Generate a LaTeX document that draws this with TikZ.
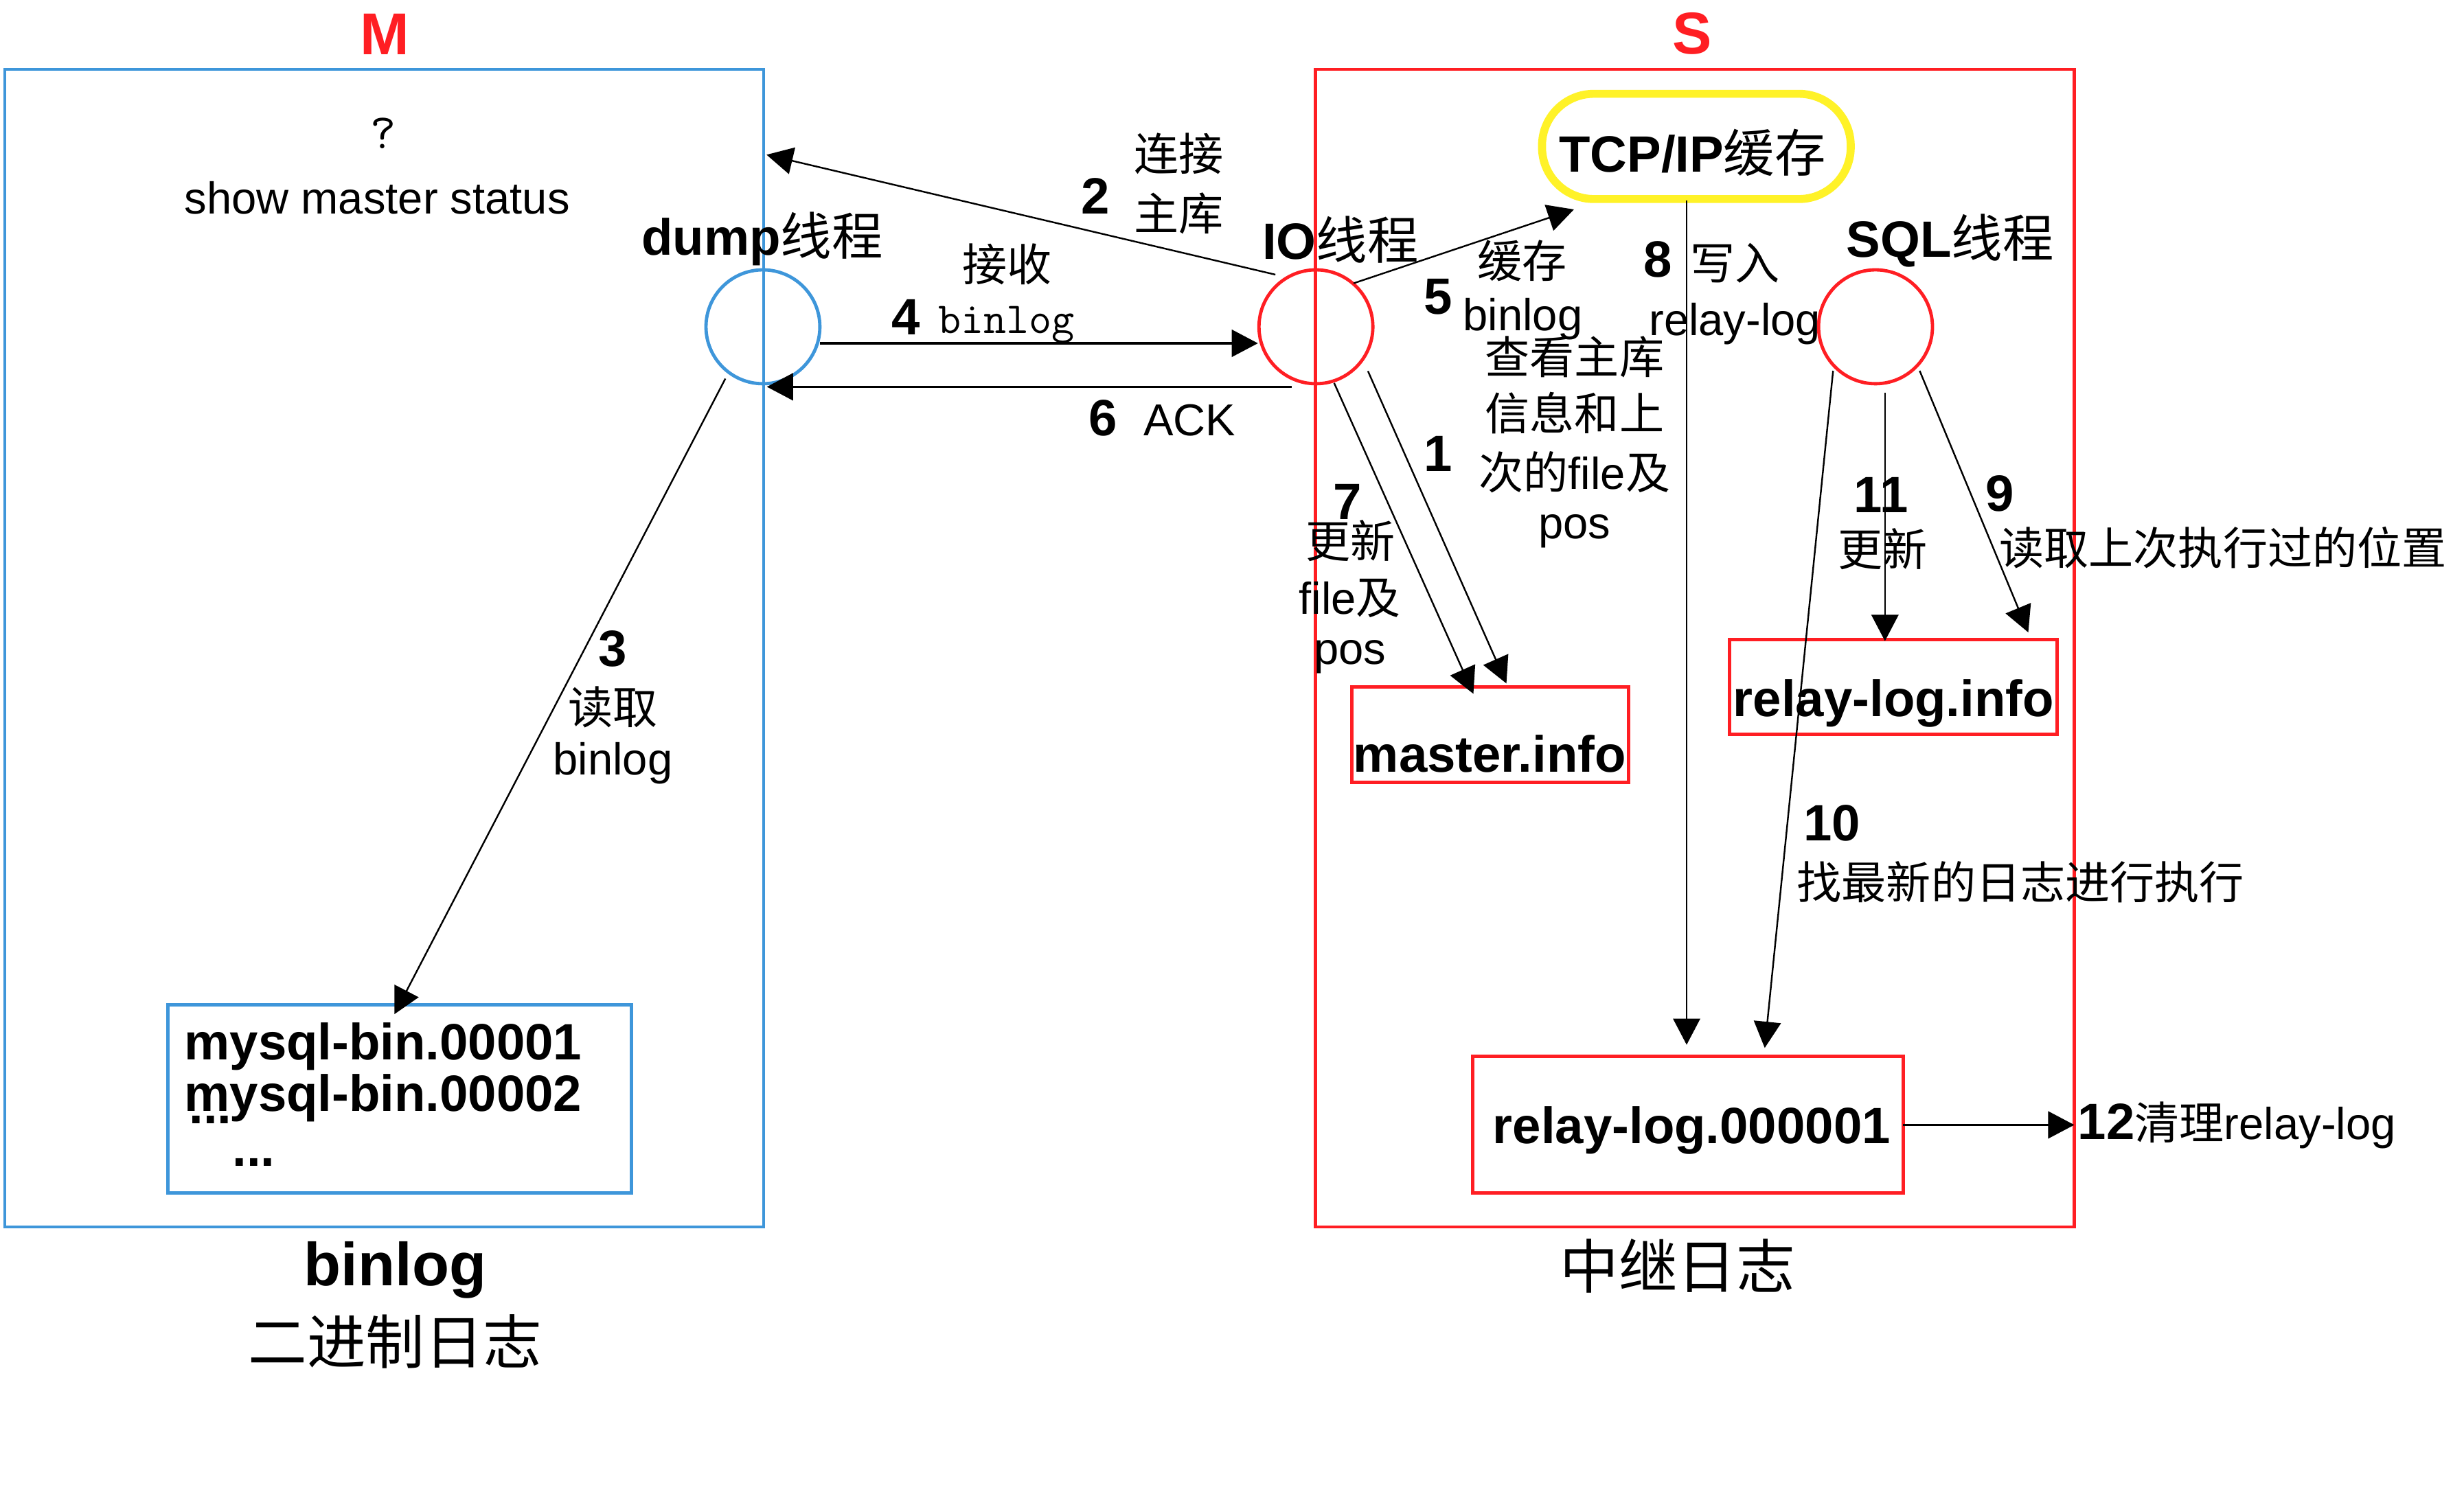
\documentclass[tikz,border=0pt]{standalone}
\usepackage{fontspec}
\setmainfont{Liberation Sans}
\newfontfamily\cjk{Noto Sans CJK SC}
\usetikzlibrary{arrows.meta}
\definecolor{mblue}{RGB}{62,150,218}
\definecolor{sred}{RGB}{255,30,35}
\definecolor{tyel}{RGB}{255,242,40}
\newcommand\zh[1]{{\cjk\mdseries #1}}
\begin{document}
\begin{tikzpicture}[x=0.02cm,y=-0.02cm,
  reg/.style={inner sep=0pt,font=\fontsize{16.2}{19}\selectfont},
  bld/.style={inner sep=0pt,font=\fontsize{18.5}{22}\selectfont\bfseries},
  zhreg/.style={inner sep=0pt,font=\fontsize{16.2}{19}\selectfont\cjk},
  ttlzh/.style={inner sep=0pt,font=\fontsize{21.3}{25}\selectfont\cjk},
  redlab/.style={inner sep=0pt,text=sred,font=\fontsize{21.4}{25}\selectfont\bfseries},
  frame/.style={draw,inner sep=0pt,line width=1.1pt},
  box/.style={draw,inner sep=0pt,line width=1.25pt},
  thread/.style={draw,circle,minimum size=1.45cm,inner sep=0pt,line width=1.2pt},
  arr/.style={-{Triangle[length=9.5pt,width=9.8pt]},line width=0.6pt},
  arrb/.style={arr,line width=0.85pt},
]
\useasboundingbox (0,0) rectangle (1568,957.5);

% frames
\node[frame,draw=mblue,minimum width=9.66cm,minimum height=14.74cm] (mframe) at (244.5,412.5) {};
\node[frame,draw=sred,minimum width=9.66cm,minimum height=14.74cm] (sframe) at (1078.5,412.5) {};
\node[redlab] (mlab) at (245,22) {M};
\node[redlab] (slab) at (1077,21.5) {S};

% inner boxes
\node[box,draw=mblue,minimum width=5.9cm,minimum height=2.4cm] (binbox) at (254.5,699.5) {};
\node[box,draw=sred,minimum width=3.52cm,minimum height=1.22cm] (minfo) at (948.2,467.6) {};
\node[box,draw=sred,minimum width=4.166cm,minimum height=1.21cm] (rinfo) at (1204.85,437.3) {};
\node[box,draw=sred,minimum width=5.48cm,minimum height=1.74cm] (rlog) at (1074,716) {};
\node[draw=tyel,line width=2.9pt,rounded corners=0.66cm,minimum width=3.93cm,minimum height=1.34cm,inner sep=0pt] (tcp) at (1079.5,93.2) {};

% threads
\node[thread,draw=mblue] (dump) at (485.5,208) {};
\node[thread,draw=sred] (io) at (837.4,208) {};
\node[thread,draw=sred] (sql) at (1193.5,208) {};

% box texts
\node[bld] (tcpt) at (1077,97) {TCP/IP\zh{缓存}};
\node[bld] (minfot) at (948,479.7) {master.info};
\node[bld] (rinfot) at (1205,447.5) {relay-log.info};
\node[bld] (rlogt) at (1076.5,719.7) {relay-log.000001};
\node[bld,anchor=base west] (bin1) at (117,674.5) {mysql-bin.00001};
\node[bld,anchor=base west] (bin2) at (117,707.3) {mysql-bin.00002};
\node[bld,anchor=base west] (dots1) at (120,715.3) {...};
\node[bld,anchor=base west] (dots2) at (147.5,742.3) {...};

% thread labels
\node[bld] (dumpt) at (485,152) {dump\zh{线程}};
\node[bld] (iot) at (853,152.5) {IO\zh{线程}};
\node[bld] (sqlt) at (1241,153) {SQL\zh{线程}};

% M side texts
\node[inner sep=0pt,font=\fontsize{18}{20}\selectfont\ttfamily] (q) at (244,85) {?};
\node[reg] (sms) at (240,126) {show master status};

% titles
\node[inner sep=0pt,font=\fontsize{22}{26}\selectfont\bfseries] (bintitle) at (251.5,808.3) {binlog};
\node[ttlzh] (binzh) at (251.5,853.7) {二进制日志};
\node[ttlzh] (relayzh) at (1067.5,806) {中继日志};

% step labels
\node[zhreg] (l2a) at (750,98) {连接};
\node[bld] (n2) at (697,125) {2};
\node[zhreg] (l2b) at (750,136) {主库};
\node[zhreg] (l4a) at (641,168) {接收};
\node[bld] (n4) at (576.5,202) {4};
\node[inner sep=0pt,font=\fontsize{16}{19}\selectfont\ttfamily] (l4b) at (640.5,207) {binlog};
\node[bld] (n6) at (702,266) {6};
\node[reg] (l6) at (757,267.5) {ACK};
\node[bld] (n3) at (390,413) {3};
\node[zhreg] (l3a) at (390,450) {读取};
\node[reg] (l3b) at (390,486) {binlog};
\node[zhreg] (l5a) at (968.5,166) {缓存};
\node[bld] (n5) at (915,189) {5};
\node[reg] (l5b) at (969,203) {binlog};
\node[bld] (n8) at (1055,165) {8};
\node[zhreg] (l8a) at (1104,167.5) {写入};
\node[reg] (l8b) at (1104,206) {relay-log};
\node[zhreg] (l1a) at (1002,227) {查看主库};
\node[zhreg] (l1b) at (1002,263) {信息和上};
\node[reg] (l1c) at (1002,300.5) {\zh{次的}file\zh{及}};
\node[reg] (l1d) at (1002,338) {pos};
\node[bld] (n1) at (915,289) {1};
\node[bld] (n7) at (857.7,319.6) {7};
\node[zhreg] (l7a) at (859.5,344) {更新};
\node[reg] (l7b) at (859,381) {file\zh{及}};
\node[reg] (l7c) at (859,418) {pos};
\node[bld] (n11) at (1197,315) {11};
\node[zhreg] (l11) at (1198,349.5) {更新};
\node[bld] (n9) at (1272.6,314) {9};
\node[zhreg] (l9) at (1414.6,348.7) {读取上次执行过的位置};
\node[bld] (n10) at (1165.7,524) {10};
\node[zhreg] (l10) at (1285.8,561.6) {找最新的日志进行执行};
\node[reg,anchor=west] (l12) at (1322,716) {{\fontsize{18.5}{22}\selectfont\bfseries 12}\zh{清理}relay-log};

% connector end points
\coordinate (s2) at (811.6,174.8);  \coordinate (t2) at (487.8,98.5);
\coordinate (s4) at (522,218.5);    \coordinate (t4) at (800.5,218.5);
\coordinate (s6) at (822,246.2);    \coordinate (t6) at (488,246.2);
\coordinate (s3) at (461.6,241);    \coordinate (t3) at (251,645.5);
\coordinate (s5) at (861.4,180.3);  \coordinate (t5) at (1001.6,133.3);
\coordinate (s8) at (1073.3,127.5); \coordinate (t8) at (1073.3,665);
\coordinate (s7) at (849,243.8);    \coordinate (t7) at (937.6,441.6);
\coordinate (s1) at (870.5,236.2);  \coordinate (t1) at (958.6,435);
\coordinate (s11) at (1199.5,250);  \coordinate (t11) at (1199.5,408);
\coordinate (s9) at (1221.6,236);   \coordinate (t9) at (1290.7,402.5);
\coordinate (s10) at (1166.5,236);  \coordinate (t10) at (1123,667);
\coordinate (s12) at (1211,716);    \coordinate (t12) at (1320,716);

% connectors
\draw[arr] (s2) -- (t2);
\draw[arrb] (s4) -- (t4);
\draw[arrb] (s6) -- (t6);
\draw[arr] (s3) -- (t3);
\draw[arr] (s5) -- (t5);
\draw[arr] (s8) -- (t8);
\draw[arr] (s7) -- (t7);
\draw[arr] (s1) -- (t1);
\draw[arr] (s11) -- (t11);
\draw[arr] (s9) -- (t9);
\draw[arr] (s10) -- (t10);
\draw[arrb] (s12) -- (t12);
\end{tikzpicture}
\end{document}
